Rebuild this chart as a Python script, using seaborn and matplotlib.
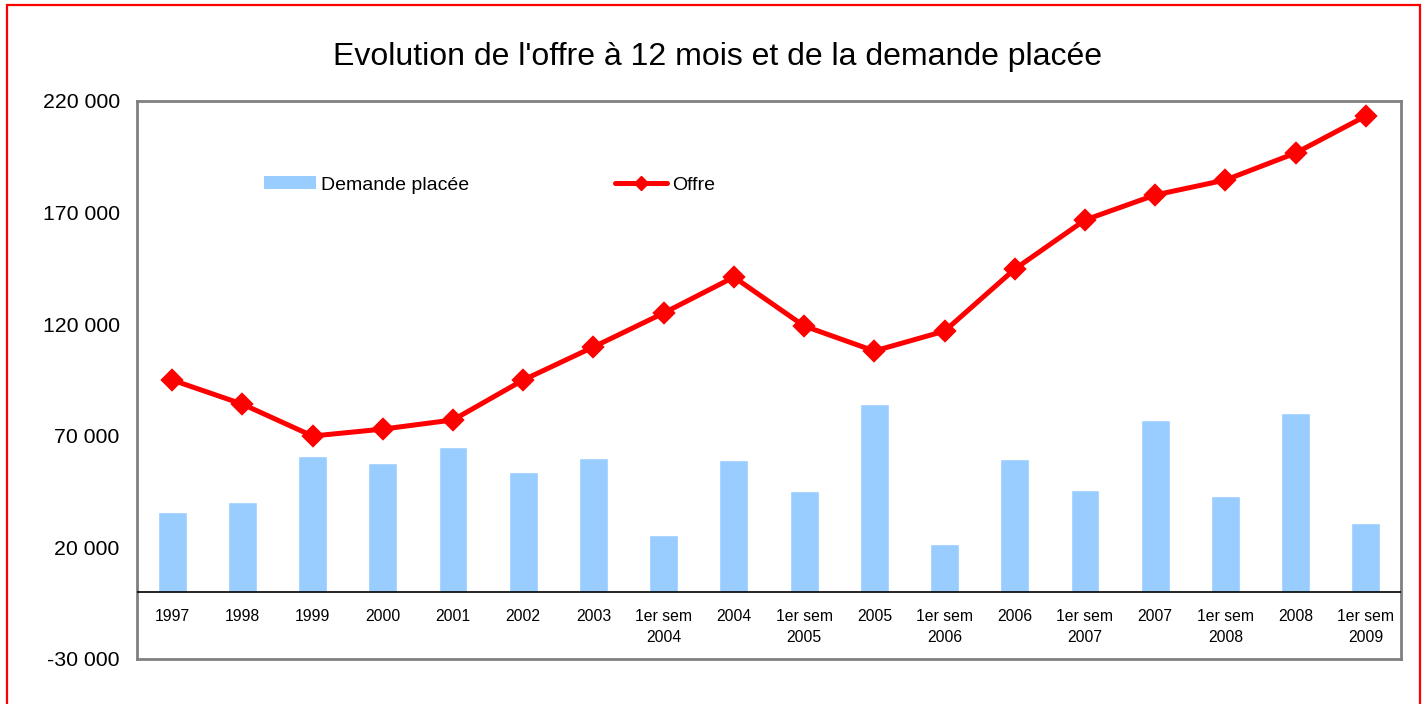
import matplotlib
matplotlib.use("Agg")
import matplotlib.pyplot as plt
from matplotlib.patches import Rectangle, Patch
from matplotlib.lines import Line2D
from matplotlib.ticker import FuncFormatter
import seaborn as sns
import pandas as pd
import numpy as np

categories = ["1997", "1998", "1999", "2000", "2001", "2002", "2003",
              "1er sem\n2004", "2004", "1er sem\n2005", "2005", "1er sem\n2006",
              "2006", "1er sem\n2007", "2007", "1er sem\n2008", "2008", "1er sem\n2009"]
demande = [35800, 40300, 60900, 57800, 65000, 53800, 60000, 25500, 59100,
           45300, 84200, 21500, 59600, 45700, 77100, 43000, 80200, 30900]
offre = [95000, 84200, 69900, 73000, 77100, 95000, 109800, 125000, 141100,
         119200, 108000, 116900, 144700, 166700, 177900, 184600, 196700, 213300]
title = "Evolution de l'offre à 12 mois et de la demande placée"

sns.set_theme(style="white")
plt.rcParams["font.family"] = ["Liberation Sans", "DejaVu Sans"]
plt.rcParams["text.color"] = "black"
plt.rcParams["xtick.color"] = "black"
plt.rcParams["ytick.color"] = "black"

df = pd.DataFrame({"cat": categories, "demande": demande, "offre": offre})

fig = plt.figure(figsize=(14.26, 7.04), dpi=100)
ax = fig.add_axes([137/1426, 1-659/704, (1401-137)/1426, (659-101)/704])

sns.barplot(data=df, x="cat", y="demande", color="#99CCFF", saturation=1,
            width=0.41, ax=ax, zorder=2)
sns.pointplot(data=df, x="cat", y="offre", color="#FF0000", markers="D",
              linestyles="-", ax=ax, markersize=9.5, linewidth=3.6, zorder=4)

ax.set_xlim(-0.5, len(categories) - 0.5)
ax.set_ylim(-30000, 220000)
ax.set_yticks(np.arange(-30000, 220001, 50000))
ax.yaxis.set_major_formatter(FuncFormatter(lambda v, p: f"{int(v):,}".replace(",", " ")))
ax.tick_params(axis="y", length=0, pad=12.5, labelsize=15.3, labelcolor="black")
ax.set_xticks([])
ax.set_xlabel("")
ax.set_ylabel("")
ax.axhline(0, color="black", lw=1.2, zorder=3)
for s in ax.spines.values():
    s.set_color("#808080")
    s.set_linewidth(2)
    s.set_visible(True)
ax.grid(False)

for i, c in enumerate(categories):
    ax.annotate(c, xy=(i, 0), xytext=(0, -12.5), textcoords="offset points",
                ha="center", va="top", fontsize=11.3, linespacing=1.5,
                color="black")

fig.text(0.503, 1-57/704, title, ha="center", va="center", fontsize=23,
         color="black")

handles = [Patch(facecolor="#99CCFF", edgecolor="none"),
           Line2D([], [], color="#FF0000", lw=3.6, marker="D", markersize=7)]
leg = fig.legend(handles, ["Demande placée", "Offre"], loc="center left",
                 bbox_to_anchor=(254/1426, 1-185/704), ncol=2, frameon=False,
                 borderpad=0, handlelength=2.68, handleheight=0.62,
                 handletextpad=0.26, columnspacing=7.5, fontsize=14)
for t in leg.get_texts():
    t.set_color("black")

fig.patches.append(Rectangle((7/1426, -0.01), (1420-7)/1426, 1-5/704+0.01,
                             transform=fig.transFigure, fill=False,
                             edgecolor="#FF0000", lw=1.6))

fig.savefig("out.png", dpi=100)
